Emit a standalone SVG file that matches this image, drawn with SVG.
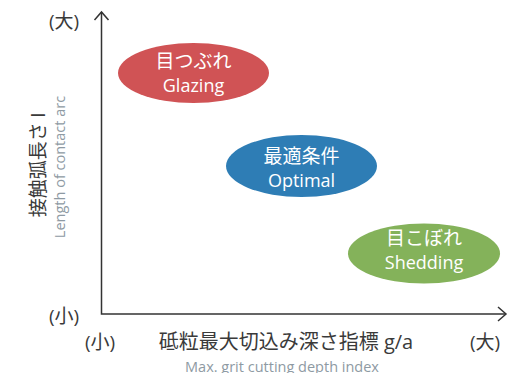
<svg xmlns="http://www.w3.org/2000/svg" width="532" height="373" viewBox="0 0 532 373">
<style>
.ax{stroke:#333;stroke-width:1.5;fill:none}
.lbl{font-family:"Open Sans","Noto Sans CJK JP",sans-serif;font-size:19px;fill:#3a3a3a}
.sub{font-family:"Open Sans","Noto Sans CJK JP",sans-serif;font-size:14.5px;fill:#8e9aa3}
.nt{font-family:"Open Sans","Noto Sans CJK JP",sans-serif;fill:#fff;text-anchor:middle}
.jp{font-size:19px}
.en{font-size:18px}
</style>
<rect width="532" height="373" fill="#fff"/>
<g id="connectors">
<path class="ax" d="M101.5 12 V314 H506"/>
<path class="ax" d="M94.5 20 L101.5 12 L108.5 20"/>
<path class="ax" d="M498 307 L506 314 L498 321"/>
</g>
<g id="axis-labels">
<text class="lbl" x="64" y="28" text-anchor="middle">(大)</text>
<text class="lbl" x="64" y="323" text-anchor="middle">(小)</text>
<text class="lbl" x="100" y="349" text-anchor="middle">(小)</text>
<text class="lbl" x="485" y="349" text-anchor="middle">(大)</text>
<text class="lbl" x="286" y="349" text-anchor="middle" style="font-size:20px">砥粒最大切込み深さ指標 g/a</text>
<text class="sub" x="282" y="372" text-anchor="middle">Max. grit cutting depth index</text>
<text class="lbl" transform="translate(45,165) rotate(-90)" text-anchor="middle">接触弧長さ l</text>
<text class="sub" transform="translate(65,167) rotate(-90)" text-anchor="middle">Length of contact arc</text>
</g>
<g id="glazing">
<ellipse cx="193.5" cy="73" rx="75.5" ry="30" fill="#d05355"/>
<text class="nt jp" x="193.5" y="68">目つぶれ</text>
<text class="nt en" x="193.5" y="92">Glazing</text>
</g>
<g id="optimal">
<ellipse cx="301.5" cy="166" rx="75.5" ry="31" fill="#2e7db5"/>
<text class="nt jp" x="301.5" y="163">最適条件</text>
<text class="nt en" x="301.5" y="187">Optimal</text>
</g>
<g id="shedding">
<ellipse cx="424" cy="253.5" rx="76" ry="30" fill="#84b25a"/>
<text class="nt jp" x="424" y="245">目こぼれ</text>
<text class="nt en" x="424" y="269">Shedding</text>
</g>
</svg>
